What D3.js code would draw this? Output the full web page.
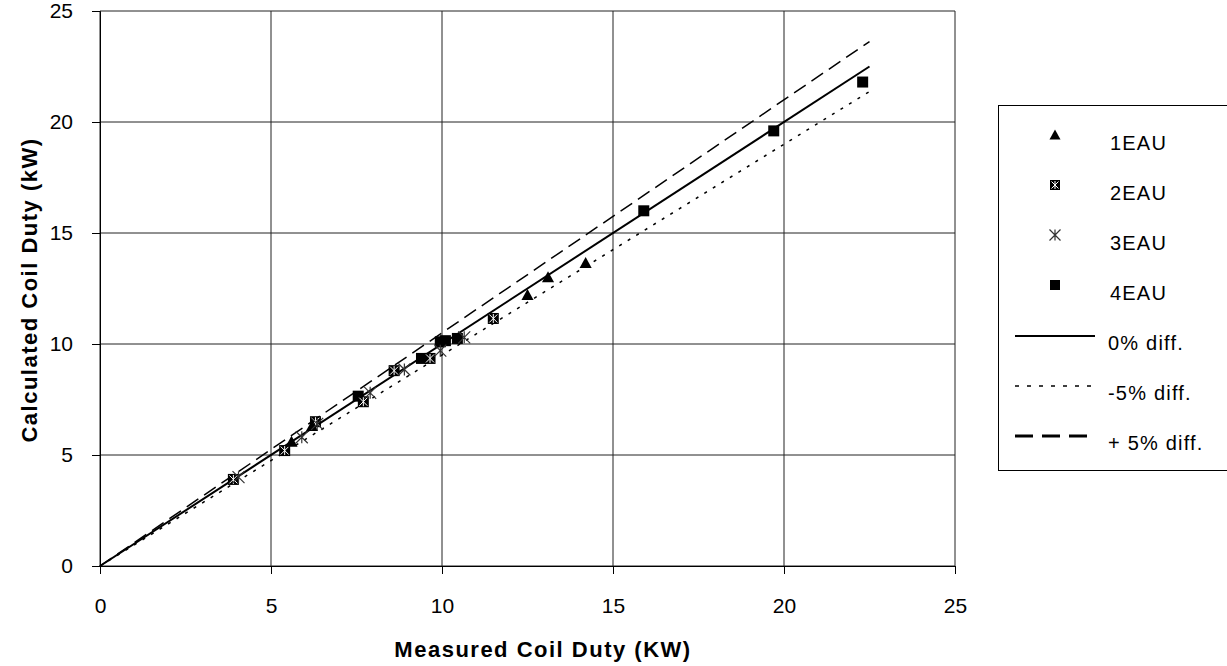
<!DOCTYPE html>
<html><head><meta charset="utf-8">
<script src="https://cdn.jsdelivr.net/npm/d3@7"></script>
<style>body{margin:0;background:#fff;} text{font-family:"Liberation Sans",Arial,sans-serif;}</style>
</head><body>
<svg id="c" width="1227" height="666"></svg>
<script>
const xTicks = [0,5,10,15,20,25];
const yTicks = [0,5,10,15,20,25];
const s1EAU = [[5.6,5.6],[6.2,6.3],[12.5,12.2],[13.1,13.0],[14.2,13.65]];
const s2EAU = [[3.9,3.9],[5.4,5.2],[6.3,6.5],[7.7,7.4],[8.6,8.8],[9.65,9.35],[11.5,11.15]];
const s3EAU = [[4.05,4.0],[5.9,5.8],[6.35,6.4],[7.9,7.8],[8.9,8.85],[9.95,9.7],[10.65,10.3]];
const s4EAU = [[7.55,7.65],[9.4,9.35],[9.95,10.1],[10.1,10.15],[10.45,10.25],[15.9,16.0],[19.7,19.6],[22.3,21.8]];
const lineX = [0,22.5];
const lineFactors = [1.0,0.95,1.05];
const legendLabels = ["1EAU","2EAU","3EAU","4EAU","0% diff.","-5% diff.","+ 5% diff."];

const svg = d3.select("#c");
const x = d3.scaleLinear().domain([0,25]).range([100,955]);
const y = d3.scaleLinear().domain([0,25]).range([566,11]);

// grid
const g = svg.append("g");
g.selectAll(".vx").data(xTicks).join("line")
  .attr("x1",d=>x(d)).attr("x2",d=>x(d)).attr("y1",y(0)).attr("y2",y(25))
  .attr("stroke","#222").attr("stroke-width",1);
g.selectAll(".hy").data(yTicks).join("line")
  .attr("y1",d=>y(d)).attr("y2",d=>y(d)).attr("x1",x(0)).attr("x2",x(25))
  .attr("stroke","#222").attr("stroke-width",1);

// axes
const xa = svg.append("g").attr("transform",`translate(0,${y(0)})`)
  .call(d3.axisBottom(x).tickValues(xTicks).tickSize(8).tickPadding(24));
const ya = svg.append("g").attr("transform",`translate(${x(0)},0)`)
  .call(d3.axisLeft(y).tickValues(yTicks).tickSize(8).tickPadding(19));
[xa,ya].forEach(a=>{
  a.select(".domain").attr("stroke","#000");
  a.selectAll(".tick line").attr("stroke","#000");
  a.selectAll("text").attr("font-size",21).attr("fill","#000").attr("font-family","Liberation Sans, Arial, sans-serif");
});

// reference lines
const lineStyles = [
  {w:2, dash:null},
  {w:1.5, dash:"3,7"},
  {w:1.5, dash:"14,7"}
];
lineFactors.forEach((f,i)=>{
  svg.append("path")
    .datum(lineX.map(v=>[v,v*f]))
    .attr("d",d3.line().x(d=>x(d[0])).y(d=>y(d[1])))
    .attr("fill","none").attr("stroke","#000")
    .attr("stroke-width",lineStyles[i].w)
    .attr("stroke-dasharray",lineStyles[i].dash);
});

// marker drawers
function tri(sel,s){ sel.append("path").attr("d",`M0,${-s*0.55}L${s*0.55},${s*0.45}L${-s*0.55},${s*0.45}Z`).attr("fill","#000"); }
function boxX(sel,s){
  const h=s/2;
  sel.append("rect").attr("x",-h).attr("y",-h).attr("width",s).attr("height",s).attr("fill","#000");
  sel.append("path").attr("d",`M${-h+1.5},${-h+1.5}L${h-1.5},${h-1.5}M${h-1.5},${-h+1.5}L${-h+1.5},${h-1.5}M0,${-h+1}L0,${h-1}`)
    .attr("stroke","#fff").attr("stroke-width",1);
}
function star(sel,s){
  const h=s/2;
  sel.append("path").attr("d",`M${-h},${-h}L${h},${h}M${h},${-h}L${-h},${h}M0,${-h}L0,${h}`)
    .attr("stroke","#333").attr("stroke-width",1.2).attr("fill","none");
}
function sq(sel,s){ sel.append("rect").attr("x",-s/2).attr("y",-s/2).attr("width",s).attr("height",s).attr("fill","#000"); }

const series = [
  {data:s4EAU, draw:sq, size:11},
  {data:s2EAU, draw:boxX, size:11},
  {data:s1EAU, draw:tri, size:11},
  {data:s3EAU, draw:star, size:12}
];
series.forEach(S=>{
  svg.append("g").selectAll("g").data(S.data).join("g")
    .attr("transform",d=>`translate(${x(d[0])},${y(d[1])})`)
    .each(function(){ S.draw(d3.select(this),S.size); });
});

// axis titles
svg.append("text").attr("x",543).attr("y",657).attr("text-anchor","middle")
  .attr("font-size",22).attr("font-weight","bold").attr("letter-spacing","1.5px").text("Measured Coil Duty (KW)");
svg.append("text").attr("transform","translate(37,290) rotate(-90)").attr("text-anchor","middle")
  .attr("font-size",22).attr("font-weight","bold").attr("letter-spacing","1.5px").text("Calculated Coil Duty (kW)");

// legend
const lg = svg.append("g");
lg.append("rect").attr("x",998.5).attr("y",105.5).attr("width",230).attr("height",365)
  .attr("fill","#fff").attr("stroke","#000").attr("stroke-width",1);
const legY = d3.scalePoint().domain(legendLabels).range([143,443]);
const legDraw = [
  s=>tri(s,10), s=>boxX(s,10), s=>star(s,11), s=>sq(s,10)
];
legendLabels.forEach((lab,i)=>{
  const yy = legY(lab);
  if(i<4){
    const m = lg.append("g").attr("transform",`translate(1055,${yy-8})`);
    legDraw[i](m);
  } else {
    const st = [{w:2,dash:null},{w:1.5,dash:"4,8"},{w:3,dash:"18,9"}][i-4];
    lg.append("line").attr("x1",1015).attr("x2",1095).attr("y1",yy-7).attr("y2",yy-7)
      .attr("stroke","#000").attr("stroke-width",st.w).attr("stroke-dasharray",st.dash);
  }
  lg.append("text").attr("x", i<4?1110:1108).attr("y",yy+7).attr("font-size",20)
    .attr("letter-spacing", "1.2px").text(lab);
});
</script>
</body></html>
